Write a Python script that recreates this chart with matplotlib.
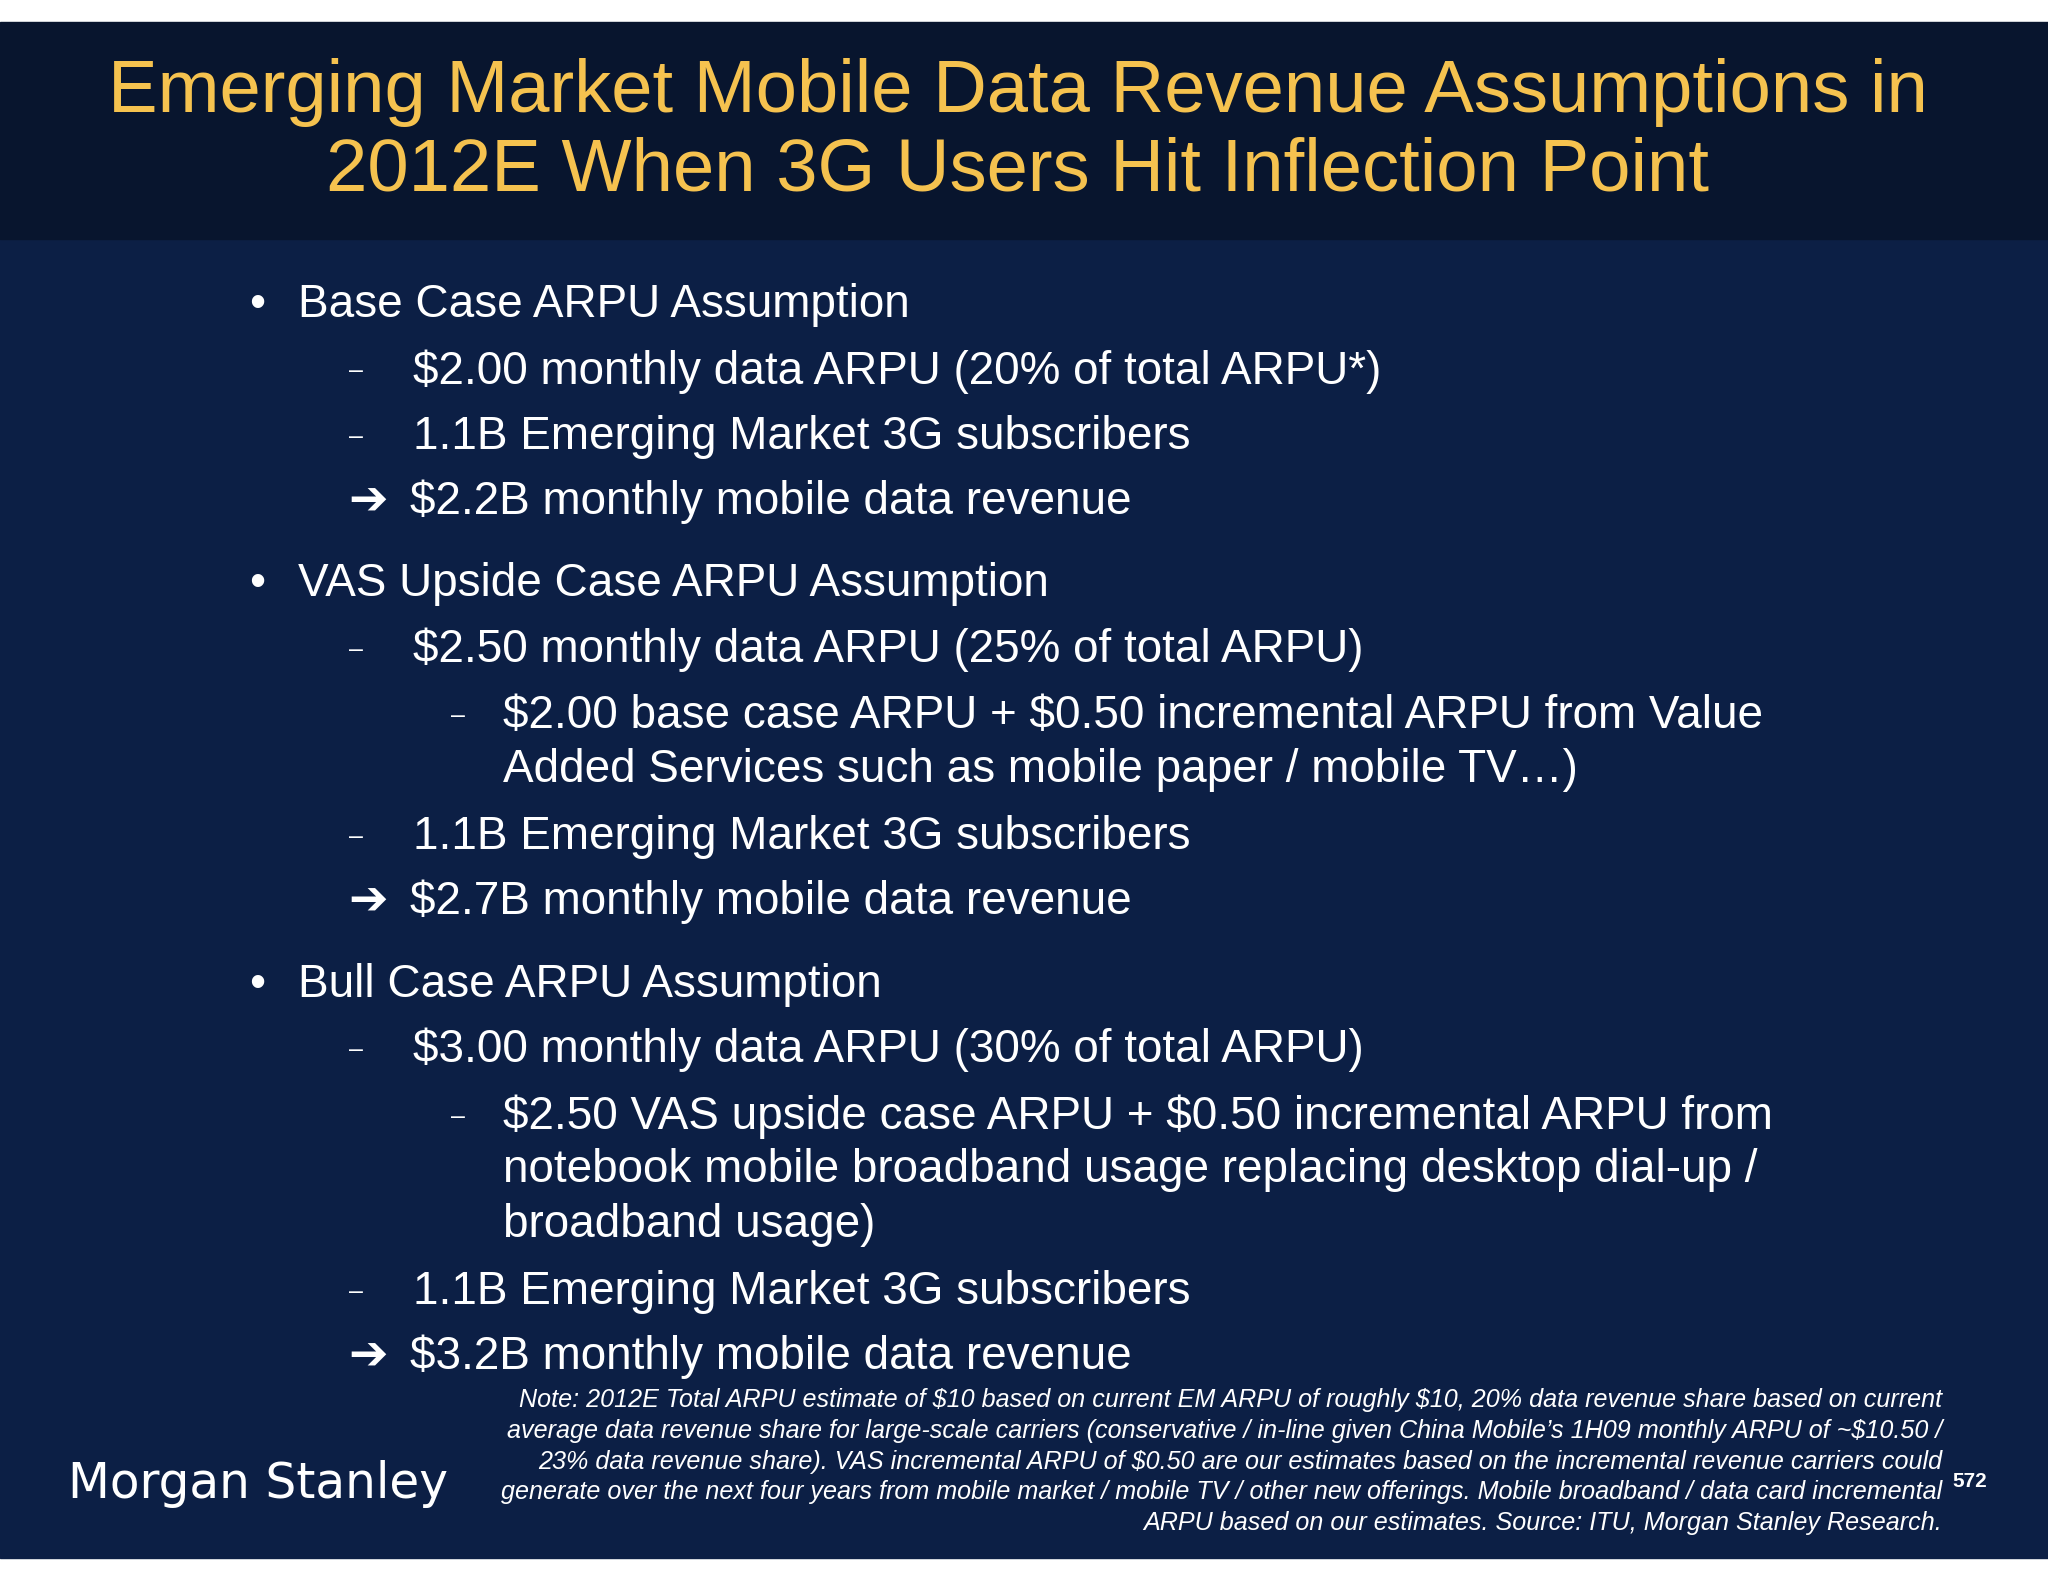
import matplotlib.pyplot as plt
from matplotlib.patches import Rectangle

plt.rcParams['font.family'] = ['Liberation Sans', 'DejaVu Sans']
plt.rcParams['text.parse_math'] = False

W, H = 1568, 1210

title_lines = ['Emerging Market Mobile Data Revenue Assumptions in',
               '2012E When 3G Users Hit Inflection Point']

# (marker, text, y) ; marker kinds: bullet, dash, arrow, sub
body = [
    ('bullet', 'Base Case ARPU Assumption', 233),
    ('dash', '$2.00 monthly data ARPU (20% of total ARPU*)', 284),
    ('dash', '1.1B Emerging Market 3G subscribers', 334),
    ('arrow', '$2.2B monthly mobile data revenue', 384),
    ('bullet', 'VAS Upside Case ARPU Assumption', 447),
    ('dash', '$2.50 monthly data ARPU (25% of total ARPU)', 497),
    ('sub', '$2.00 base case ARPU + $0.50 incremental ARPU from Value', 548),
    ('cont', 'Added Services such as mobile paper / mobile TV\u2026)', 589),
    ('dash', '1.1B Emerging Market 3G subscribers', 640),
    ('arrow', '$2.7B monthly mobile data revenue', 690),
    ('bullet', 'Bull Case ARPU Assumption', 753),
    ('dash', '$3.00 monthly data ARPU (30% of total ARPU)', 803),
    ('sub', '$2.50 VAS upside case ARPU + $0.50 incremental ARPU from', 854),
    ('cont', 'notebook mobile broadband usage replacing desktop dial-up /', 895),
    ('cont', 'broadband usage)', 937),
    ('dash', '1.1B Emerging Market 3G subscribers', 988),
    ('arrow', '$3.2B monthly mobile data revenue', 1038),
]

note_lines = [
    'Note: 2012E Total ARPU estimate of $10 based on current EM ARPU of roughly $10, 20% data revenue share based on current',
    'average data revenue share for large-scale carriers (conservative / in-line given China Mobile\u2019s 1H09 monthly ARPU of ~$10.50 /',
    '23% data revenue share). VAS incremental ARPU of $0.50 are our estimates based on the incremental revenue carriers could',
    'generate over the next four years from mobile market / mobile TV / other new offerings. Mobile broadband / data card incremental',
    'ARPU based on our estimates. Source: ITU, Morgan Stanley Research.',
]

fig = plt.figure(figsize=(20.48, 15.82), dpi=100)

def fx(x):
    return x / W

def fy(y):
    return 1 - y / H

# backgrounds
fig.patches.append(Rectangle((0, fy(1192)), 1, (1192 - 183) / H, transform=fig.transFigure, color='#0c1f45'))
fig.patches.append(Rectangle((0, fy(183)), 1, (183 - 17) / H, transform=fig.transFigure, color='#08152e'))

gold = '#f5c24f'
for line, y in zip(title_lines, [71, 131]):
    fig.text(0.497, fy(y), line, color=gold, fontsize=53.5, ha='center', va='center')

fs = 33
for kind, txt, y in body:
    if kind == 'bullet':
        fig.text(fx(191), fy(y), '\u2022', color='white', fontsize=fs, ha='left', va='center')
        fig.text(fx(228), fy(y), txt, color='white', fontsize=fs, ha='left', va='center')
    elif kind == 'dash':
        fig.text(fx(267), fy(y), '\u2013', color='white', fontsize=18, ha='left', va='center')
        fig.text(fx(316), fy(y), txt, color='white', fontsize=fs, ha='left', va='center')
    elif kind == 'arrow':
        fig.text(fx(267), fy(y), '\u2794', color='white', fontsize=34, ha='left', va='center',
                 family=['DejaVu Sans'], fontweight='bold')
        fig.text(fx(314), fy(y), txt, color='white', fontsize=fs, ha='left', va='center')
    elif kind == 'sub':
        fig.text(fx(345), fy(y), '\u2013', color='white', fontsize=18, ha='left', va='center')
        fig.text(fx(385), fy(y), txt, color='white', fontsize=fs, ha='left', va='center')
    else:
        fig.text(fx(385), fy(y), txt, color='white', fontsize=fs, ha='left', va='center')

for i, line in enumerate(note_lines):
    fig.text(fx(1487), fy(1071 + i * 23.5), line, color='white', fontsize=18.1,
             style='italic', ha='right', va='center')

fig.text(fx(52), fy(1135), 'Morgan Stanley', color='white', fontsize=35, ha='left', va='center',
         family=['DejaVu Sans'])
fig.text(fx(1508), fy(1133), '572', color='white', fontsize=15, fontweight='bold', ha='center', va='center')

fig.savefig('out.png', dpi=100, facecolor='white')
